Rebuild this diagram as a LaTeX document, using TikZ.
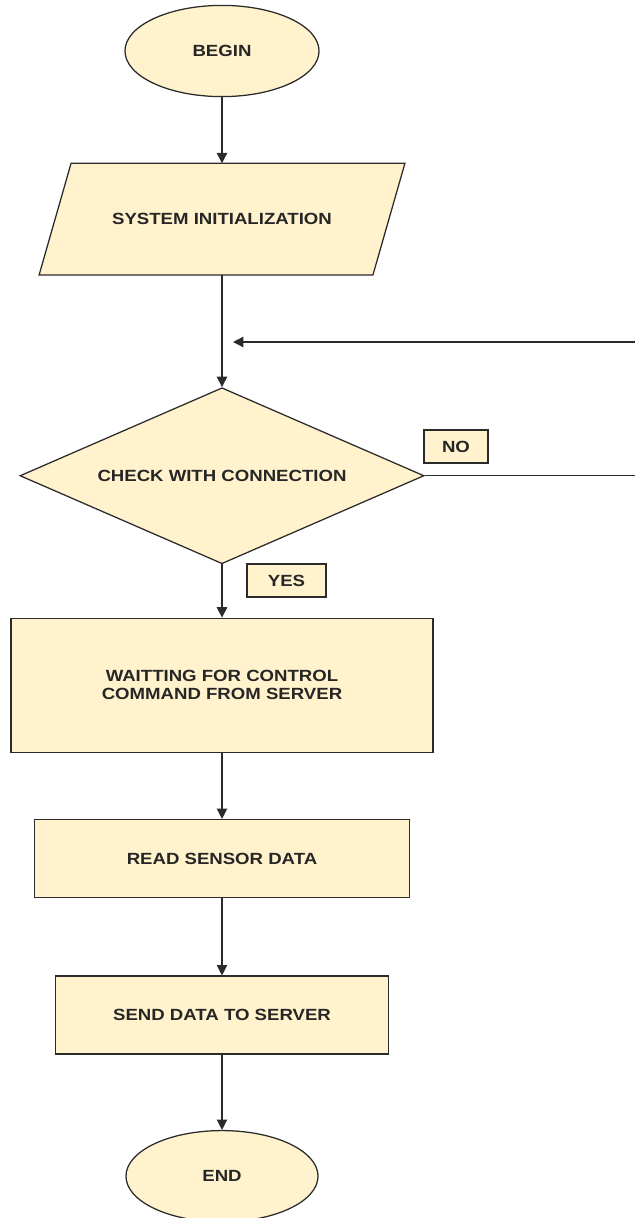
\documentclass[tikz,border=0pt]{standalone}
\usepackage{fontspec}
\setmainfont[FakeStretch=1.15]{Liberation Sans}
\usetikzlibrary{positioning, arrows.meta, shapes.geometric, calc, backgrounds}
\definecolor{boxfill}{HTML}{FFF2CC}
\definecolor{boxline}{HTML}{2B2B2B}

\begin{document}
\begin{tikzpicture}[
        x=0.025cm, y=-0.025cm,
        font=\bfseries\fontsize{11.5}{13}\selectfont,
        base/.style={draw=boxline, fill=boxfill, line width=0.9pt, text=black!85, align=center, inner sep=1mm},
        termbox/.style={base, ellipse, minimum width=4.85cm, minimum height=2.28cm},
        iotext/.style={rectangle, text=black!85, align=center, minimum width=8.33cm, minimum height=2.78cm},
        decbox/.style={base, diamond, aspect=2.3, minimum width=10.1cm, minimum height=4.4cm, inner sep=0pt},
        procbox/.style={base, rectangle, minimum height=1.95cm},
        tagbox/.style={base, rectangle, minimum height=0.82cm, inner sep=0.5mm},
        arrow/.style={-{Triangle[length=2.6mm,width=2.6mm]}, line width=0.9pt, draw=boxline}
      ]
        \useasboundingbox (0,0) rectangle (635,1218);

        \node[termbox] (start) at (222,51) {BEGIN};
        \node[iotext, below=1.65cm of start] (init) {SYSTEM INITIALIZATION};
        \node[decbox, below=2.8cm of init] (check) {CHECK WITH CONNECTION};
        \node[procbox, minimum width=10.55cm, minimum height=3.35cm, below=1.33cm of check] (wait)
          {WAITTING FOR CONTROL\\COMMAND FROM SERVER};
        \node[procbox, minimum width=9.38cm, below=1.65cm of wait] (read) {READ SENSOR DATA};
        \node[procbox, minimum width=8.33cm, below=1.93cm of read] (send) {SEND DATA TO SERVER};
        \node[termbox, minimum width=4.8cm, below=1.88cm of send] (stop) {END};

        % slanted input box behind its text
        \begin{scope}[on background layer]
          \path[base] ([xshift=-0.4cm]init.south west) -- ([xshift=0.4cm]init.north west)
            -- ([xshift=0.4cm]init.north east) -- ([xshift=-0.4cm]init.south east) -- cycle;
        \end{scope}

        \node[tagbox, minimum width=1.6cm] (no) at (456,446.5) {NO};
        \node[tagbox, minimum width=1.98cm] (yes) at (286.5,580.5) {YES};

        \coordinate (loopin) at (233,342);

        \draw[arrow] (start) -- (init);
        \draw[arrow] (init) -- (check);
        \draw[arrow] (check) -- (wait);
        \draw[arrow] (wait) -- (read);
        \draw[arrow] (read) -- (send);
        \draw[arrow] (send) -- (stop);
        \draw[arrow] (check.east) -- ++(222,0) |- (loopin);
      \end{tikzpicture}
\end{document}
